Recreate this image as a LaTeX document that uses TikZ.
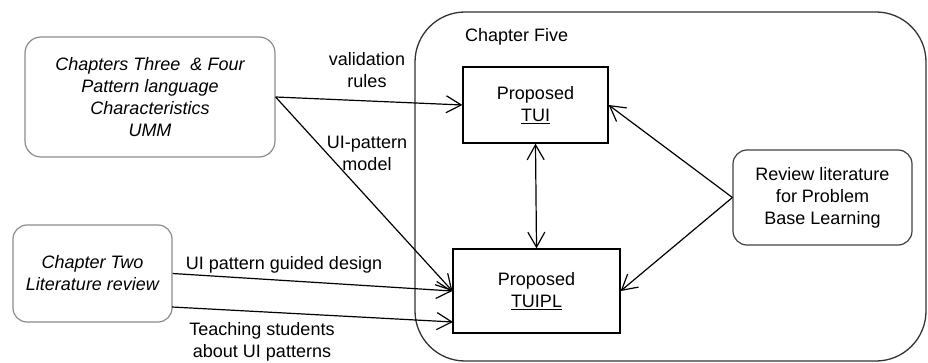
\documentclass[tikz,border=0pt]{standalone}
\usepackage{fontspec}
\setmainfont{Liberation Sans}
\usetikzlibrary{arrows.meta}
\begin{document}
\begin{tikzpicture}[x=1pt,y=-1pt,
  every node/.style={font=\fontsize{18}{22}\selectfont, align=center, inner sep=0pt},
  source/.style={draw=black!45, line width=1.2pt, rounded corners=16pt},
  block/.style={draw=black, line width=1.3pt},
  lbl/.style={},
  link/.style={line width=1.2pt, -{Straight Barb[length=15pt,width=17pt,line width=1.2pt]}},
  dlink/.style={line width=1.2pt, {Straight Barb[length=15pt,width=17pt,line width=1.2pt]}-{Straight Barb[length=15pt,width=17pt,line width=1.2pt]}}
]
\useasboundingbox (0,0) rectangle (928,363);

% enclosing chapter frame
\node[draw=black!80, line width=1.3pt, rounded corners=50pt,
      minimum width=511pt, minimum height=349pt] (ch5) at (670.5,186.5) {};
\node[anchor=west] (ch5title) at (465,37) {Chapter Five};

% source chapters
\node[source, minimum width=250pt, minimum height=120pt] (c34) at (150,97)
  {\itshape Chapters Three~ \& Four\\\itshape Pattern language\\\itshape Characteristics\\\itshape UMM};
\node[source, rounded corners=14pt, minimum width=159pt, minimum height=97pt] (c2) at (92.5,273.5)
  {\itshape Chapter Two\\\itshape Literature review};

% proposed results
\node[block, minimum width=145pt, minimum height=76pt] (tui) at (535.5,105)
  {Proposed\\\underline{TUI}};
\node[block, minimum width=167pt, minimum height=84pt] (tuipl) at (536.5,291)
  {Proposed\\\underline{TUIPL}};

% review box
\node[source, draw=black!75, rounded corners=14pt, minimum width=179pt, minimum height=95pt] (rev) at (822.5,197.5)
  {Review literature\\for Problem\\Base Learning};

% connector end points
\coordinate (c2low) at (172,307);
\coordinate (tuiplin) at (453,322);

% connectors
\draw[link] (c34.east) -- (tui.west);
\draw[link] (c34.east) -- (tuipl.west);
\draw[link] (c2.east) -- (tuipl.west);
\draw[link] (c2low) -- (tuiplin);
\draw[dlink] (tui.south) -- (tuipl.north);
\draw[link] (rev.west) -- (tui.east);
\draw[link] (rev.west) -- (tuipl.east);

% connector labels
\node[lbl] (lvr) at (367,70) {validation\\rules};
\node[lbl] (lum) at (367,153) {UI-pattern\\model};
\node[lbl] (lgd) at (284,265) {UI pattern guided design};
\node[lbl] (lts) at (262,342) {Teaching students\\about UI patterns};
\end{tikzpicture}
\end{document}
